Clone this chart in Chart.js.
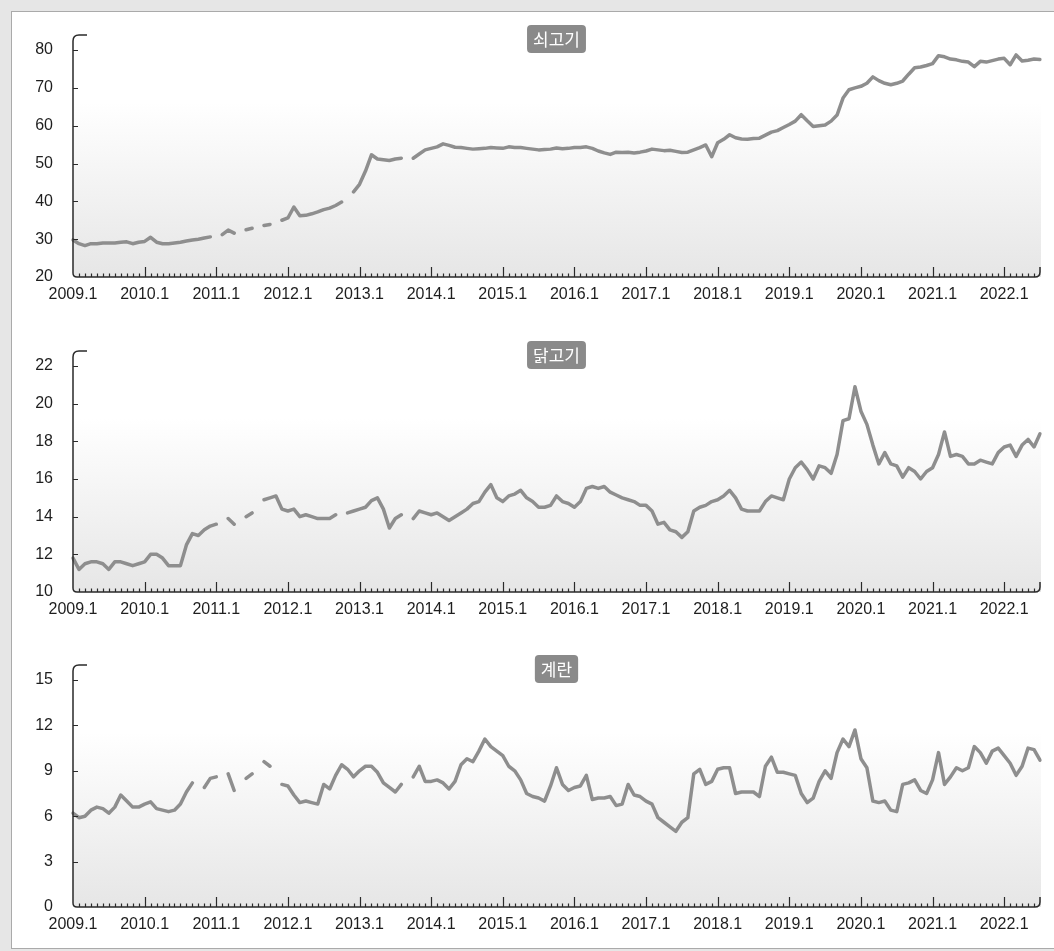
<!DOCTYPE html>
<html lang="ko">
<head>
<meta charset="utf-8">
<script src="https://cdn.jsdelivr.net/npm/chart.js@4.4.1/dist/chart.umd.min.js"></script>
<style>
  html, body { margin: 0; padding: 0; background: #e6e6e6; }
  #frame { position: relative; width: 1054px; height: 951px; overflow: hidden; }
  #panel {
    position: absolute; left: 11px; top: 11px; right: 0; bottom: 2px;
    background: #fff;
    border-left: 1px solid #aaa; border-top: 1px solid #aaa; border-bottom: 1px solid #aaa;
  }
  canvas { position: absolute; left: 0; }
</style>
</head>
<body>
<div id="frame">
  <div id="panel"></div>
  <canvas id="c1" width="1054" height="315" style="top:0"></canvas>
  <canvas id="c2" width="1054" height="315" style="top:315px"></canvas>
  <canvas id="c3" width="1054" height="321" style="top:630px"></canvas>
</div>
<script>
// ═══════════════════════════════════════
//  DONNÉES (mensuelles, 2009.1 – 2022.7)
// ═══════════════════════════════════════

const firstYear = 2009, lastYear = 2022, lastMonth = 7;
const months = [];
for (let y = firstYear; y <= lastYear; y++) {
  for (let m = 1; m <= 12; m++) {
    if (y === lastYear && m > lastMonth) break;
    months.push(y + '.' + m);
  }
}

const titles = ['쇠고기', '닭고기', '계란'];

// 쇠고기
const beef = [
  29.8, 28.8, 28.3, 28.8, 28.8, 29.0, 29.0, 29.0, 29.2, 29.3, 28.8, 29.2,
  29.4, 30.5, 29.2, 28.8, 28.8, 29.0, 29.2, 29.5, 29.8, 30.0, 30.3, 30.6,
  null, 31.2, 32.4, 31.6, null, 32.5, 32.9, null, 33.6, 33.9, null, 35.0,
  35.6, 38.5, 36.2, 36.3, 36.7, 37.2, 37.8, 38.2, 38.9, 39.8, null, 42.5,
  44.5, 48.0, 52.3, 51.2, 51.0, 50.8, 51.2, 51.4, null, 51.4, 52.5, 53.6,
  54.0, 54.4, 55.2, 54.8, 54.3, 54.2, 54.0, 53.8, 53.9, 54.0, 54.2, 54.1,
  54.0, 54.4, 54.2, 54.2, 54.0, 53.8, 53.6, 53.7, 53.8, 54.1, 53.9, 54.0,
  54.2, 54.2, 54.4, 54.0, 53.3, 52.8, 52.4, 53.0, 52.9, 53.0, 52.8, 53.0,
  53.3, 53.8, 53.6, 53.4, 53.5, 53.2, 52.9, 53.0, 53.6, 54.2, 54.9, 51.8,
  55.5, 56.4, 57.6, 56.8, 56.5, 56.4, 56.6, 56.7, 57.5, 58.3, 58.7, 59.5,
  60.3, 61.2, 62.9, 61.3, 59.8, 60.0, 60.2, 61.2, 62.8, 67.3, 69.5, 70.0,
  70.4, 71.2, 72.9, 71.9, 71.2, 70.8, 71.2, 71.8, 73.6, 75.3, 75.5, 75.9,
  76.4, 78.5, 78.2, 77.6, 77.4, 77.0, 76.8, 75.6, 77.0, 76.8, 77.2, 77.6,
  77.8, 76.1, 78.7, 77.1, 77.3, 77.6, 77.5
];

// 닭고기
const chicken = [
  11.8, 11.2, 11.5, 11.6, 11.6, 11.5, 11.2, 11.6, 11.6, 11.5, 11.4, 11.5,
  11.6, 12.0, 12.0, 11.8, 11.4, 11.4, 11.4, 12.5, 13.1, 13.0, 13.3, 13.5,
  13.6, null, 13.9, 13.6, null, 14.0, 14.2, null, 14.9, 15.0, 15.1, 14.4,
  14.3, 14.4, 14.0, 14.1, 14.0, 13.9, 13.9, 13.9, 14.1, null, 14.2, 14.3,
  14.4, 14.5, 14.85, 15.0, 14.4, 13.4, 13.9, 14.1, null, 13.9, 14.3, 14.2,
  14.1, 14.2, 14.0, 13.8, 14.0, 14.2, 14.4, 14.7, 14.8, 15.3, 15.7, 15.0,
  14.8, 15.1, 15.2, 15.4, 15.0, 14.8, 14.5, 14.5, 14.6, 15.1, 14.8, 14.7,
  14.5, 14.8, 15.5, 15.6, 15.5, 15.6, 15.3, 15.15, 15.0, 14.9, 14.8, 14.6,
  14.6, 14.3, 13.6, 13.7, 13.3, 13.2, 12.9, 13.2, 14.3, 14.5, 14.6, 14.8,
  14.9, 15.1, 15.4, 15.0, 14.4, 14.3, 14.3, 14.3, 14.8, 15.1, 15.0, 14.9,
  16.0, 16.6, 16.9, 16.5, 16.0, 16.7, 16.6, 16.3, 17.3, 19.1, 19.2, 20.9,
  19.6, 18.9, 17.8, 16.8, 17.4, 16.8, 16.7, 16.1, 16.6, 16.4, 16.0, 16.4,
  16.6, 17.3, 18.5, 17.2, 17.3, 17.2, 16.8, 16.8, 17.0, 16.9, 16.8, 17.4,
  17.7, 17.8, 17.2, 17.8, 18.1, 17.7, 18.4
];

// 계란
const egg = [
  6.2, 5.9, 6.0, 6.4, 6.6, 6.5, 6.2, 6.6, 7.4, 7.0, 6.6, 6.6,
  6.8, 6.95, 6.5, 6.4, 6.3, 6.4, 6.8, 7.6, 8.2, null, 7.9, 8.5,
  8.6, null, 8.8, 7.7, null, 8.5, 8.8, null, 9.6, 9.3, null, 8.1,
  8.0, 7.4, 6.9, 7.0, 6.9, 6.8, 8.1, 7.8, 8.7, 9.4, 9.1, 8.6,
  9.0, 9.3, 9.3, 8.9, 8.2, 7.9, 7.6, 8.1, null, 8.6, 9.3, 8.3,
  8.3, 8.4, 8.2, 7.8, 8.3, 9.4, 9.8, 9.6, 10.3, 11.1, 10.6, 10.3,
  10.0, 9.3, 9.0, 8.4, 7.5, 7.3, 7.2, 7.0, 8.0, 9.2, 8.1, 7.7,
  7.9, 8.0, 8.7, 7.1, 7.2, 7.2, 7.3, 6.7, 6.8, 8.1, 7.4, 7.3,
  7.0, 6.8, 5.9, 5.6, 5.3, 5.0, 5.6, 5.9, 8.8, 9.1, 8.1, 8.3,
  9.1, 9.2, 9.2, 7.5, 7.6, 7.6, 7.6, 7.3, 9.3, 9.9, 8.9, 8.9,
  8.8, 8.7, 7.5, 6.9, 7.2, 8.3, 9.0, 8.5, 10.2, 11.1, 10.6, 11.7,
  9.8, 9.2, 7.0, 6.9, 7.0, 6.4, 6.3, 8.1, 8.2, 8.4, 7.7, 7.5,
  8.4, 10.2, 8.1, 8.6, 9.2, 9.0, 9.2, 10.6, 10.2, 9.5, 10.3, 10.5,
  10.0, 9.5, 8.7, 9.3, 10.5, 10.4, 9.7
];

// axes y : min, max, pas
const yMin  = [20, 10, 0];
const yMax  = [80, 22, 15];
const yStep = [10, 2, 3];

// ═══════════════════════════════════════
//  DÉCOR : fond dégradé, axes arrondis, badge
// ═══════════════════════════════════════

const panelDecor = {
  id: 'panelDecor',
  beforeDraw(chart) {
    const { ctx, chartArea: a } = chart;
    const top = a.top - 15;
    const g = ctx.createLinearGradient(0, top, 0, a.bottom);
    g.addColorStop(0, '#ffffff');
    g.addColorStop(0.28, '#ffffff');
    g.addColorStop(1, '#e6e6e6');
    ctx.save();
    ctx.fillStyle = g;
    ctx.fillRect(a.left, top, a.right - a.left + 1, a.bottom - top);
    ctx.restore();
  },
  afterDatasetsDraw(chart, args, opts) {
    const { ctx, chartArea: a, scales } = chart;
    const xs = scales.x, ys = scales.y;
    ctx.save();
    ctx.strokeStyle = '#2a2a2a';
    ctx.lineWidth = 1.5;
    ctx.beginPath();
    ctx.moveTo(a.left + 14, a.top - 15);
    ctx.lineTo(a.left + 6, a.top - 15);
    ctx.quadraticCurveTo(a.left, a.top - 15, a.left, a.top - 9);
    ctx.lineTo(a.left, a.bottom - 4);
    ctx.quadraticCurveTo(a.left, a.bottom, a.left + 4, a.bottom);
    ctx.lineTo(a.right - 5, a.bottom);
    ctx.quadraticCurveTo(a.right, a.bottom, a.right, a.bottom - 5);
    ctx.lineTo(a.right, a.bottom - 10);
    ctx.stroke();

    // graduations x (mois)
    ctx.lineWidth = 1.2;
    ctx.beginPath();
    for (let i = 1; i < months.length - 1; i++) {
      const px = Math.round(xs.getPixelForValue(i)) + 0.5;
      const len = months[i].endsWith('.1') ? 10 : 3.5;
      ctx.moveTo(px, a.bottom);
      ctx.lineTo(px, a.bottom - len);
    }
    // graduations y
    ys.ticks.forEach(t => {
      const py = Math.round(ys.getPixelForValue(t.value)) + 0.5;
      if (t.value === ys.min) return;
      ctx.moveTo(a.left, py);
      ctx.lineTo(a.left + 5, py);
    });
    ctx.stroke();

    // badge du titre
    ctx.font = '17px "Noto Sans CJK KR", sans-serif';
    const w = ctx.measureText(opts.title).width + 12;
    const h = 28, r = 4;
    const cx = (a.left + a.right) / 2;
    const bx = cx - w / 2, by = a.top - 25;
    ctx.fillStyle = '#8a8a8a';
    ctx.beginPath();
    ctx.moveTo(bx + r, by);
    ctx.arcTo(bx + w, by, bx + w, by + h, r);
    ctx.arcTo(bx + w, by + h, bx, by + h, r);
    ctx.arcTo(bx, by + h, bx, by, r);
    ctx.arcTo(bx, by, bx + w, by, r);
    ctx.closePath();
    ctx.fill();
    ctx.fillStyle = '#ffffff';
    ctx.textAlign = 'center';
    ctx.textBaseline = 'middle';
    ctx.fillText(opts.title, cx, by + h / 2 + 1);
    ctx.restore();
  }
};

// ═══════════════════════════════════════
//  GRAPHES
// ═══════════════════════════════════════

function drawPanel(canvasId, values, k) {
  const canvas = document.getElementById(canvasId);
  const padTop = k === 1 ? 51 : 50;
  new Chart(canvas.getContext('2d'), {
    type: 'line',
    data: {
      labels: months,
      datasets: [{
        data: values,
        borderColor: '#8e8e8e',
        borderWidth: 3.5,
        pointRadius: 0,
        tension: 0,
        spanGaps: false,
        borderJoinStyle: 'round',
        borderCapStyle: 'round'
      }]
    },
    options: {
      responsive: false,
      animation: false,
      layout: { padding: { top: padTop, right: 14, bottom: canvas.height - 277 - 36, left: 0 } },
      plugins: {
        legend: { display: false },
        tooltip: { enabled: false },
        panelDecor: { title: titles[k] }
      },
      scales: {
        x: {
          type: 'category',
          offset: false,
          grid: { display: false, drawTicks: false },
          border: { display: false },
          afterFit: s => { s.height = 36; },
          ticks: {
            autoSkip: false,
            maxRotation: 0,
            padding: 8,
            color: '#1e1e1e',
            font: { family: '"Liberation Sans", Arial, sans-serif', size: 16 },
            callback: (v, i) => months[i].endsWith('.1') ? months[i] : ''
          }
        },
        y: {
          min: yMin[k],
          max: yMax[k],
          grid: { display: false, drawTicks: false },
          border: { display: false },
          afterFit: s => { s.width = 73; },
          ticks: {
            stepSize: yStep[k],
            padding: 20,
            color: '#1e1e1e',
            font: { family: '"Liberation Sans", Arial, sans-serif', size: 16 }
          }
        }
      }
    },
    plugins: [panelDecor]
  });
}

drawPanel('c1', beef, 0);
drawPanel('c2', chicken, 1);
drawPanel('c3', egg, 2);
</script>
</body>
</html>
